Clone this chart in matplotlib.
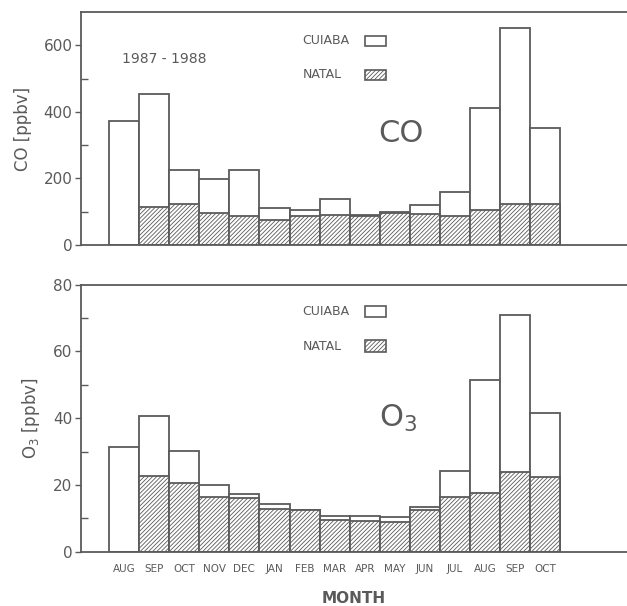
import numpy as np
import matplotlib
matplotlib.use('Agg')
import matplotlib.pyplot as plt
from matplotlib.patches import Rectangle

# monthly means 1987-1988
months = ['AUG', 'SEP', 'OCT', 'NOV', 'DEC', 'JAN', 'FEB', 'MAR', 'APR', 'MAY',
          'JUN', 'JUL', 'AUG', 'SEP', 'OCT']
co_cuiaba = [371, 453, 225, 198, 224, 110, 105, 138, 90, 98, 120, 159, 413, 651, 351]
co_natal = [np.nan, 113, 123, 96, 88, 74, 86, 91, 86, 97, 93, 86, 104, 124, 122]
o3_cuiaba = [31.5, 40.7, 30.3, 20.0, 17.2, 14.3, 12.5, 10.8, 10.6, 10.4, 13.5, 24.2, 51.3, 71.0, 41.7]
o3_natal = [np.nan, 22.6, 20.6, 16.5, 16.2, 12.9, 12.4, 9.5, 9.2, 8.8, 12.6, 16.3, 17.6, 24.0, 22.5]

ink = '#5a5a5a'
plt.rcParams['hatch.color'] = '#8c8c8c'
plt.rcParams['hatch.linewidth'] = 0.6
plt.rcParams['font.family'] = ['DejaVu Sans']

fig = plt.figure(figsize=(6.27, 6.06), dpi=100)
ax1 = fig.add_axes([0.129, 0.596, 0.871, 0.384])
ax2 = fig.add_axes([0.129, 0.0896, 0.871, 0.4406])

x = np.arange(len(months))


def draw_panel(ax, cuiaba, natal, ymax, major, minor):
    ax.bar(x, cuiaba, width=1.0, facecolor='white', edgecolor=ink, linewidth=1.3)
    ax.bar(x, natal, width=1.0, facecolor='white', edgecolor=ink, linewidth=1.3, hatch='////////')
    ax.set_xlim(-1.43, 16.71)
    ax.set_ylim(0, ymax)
    ax.set_yticks(major)
    ax.set_yticks(minor, minor=True)
    # major ticks outside, minor ticks inside, as in the original
    ax.tick_params(axis='y', which='major', direction='out', length=4, width=1, color=ink,
                   labelcolor=ink, labelsize=11, pad=2)
    ax.tick_params(axis='y', which='minor', direction='in', length=5, width=1, color=ink)
    ax.tick_params(axis='x', length=0)
    for s in ax.spines.values():
        s.set_color(ink)
        s.set_linewidth(1.3)
    ax.spines['right'].set_visible(False)


def draw_legend(ax, y1, y2):
    # legend drawn in axes coordinates, like the hand-made key in the original
    ax.text(0.406, y1, 'CUIABA', transform=ax.transAxes, color=ink, fontsize=9, va='center')
    ax.text(0.406, y2, 'NATAL', transform=ax.transAxes, color=ink, fontsize=9, va='center')
    ax.add_patch(Rectangle((0.520, y1 - 0.022), 0.038, 0.044, transform=ax.transAxes,
                           facecolor='white', edgecolor=ink, linewidth=1.2))
    ax.add_patch(Rectangle((0.520, y2 - 0.022), 0.038, 0.044, transform=ax.transAxes,
                           facecolor='white', edgecolor=ink, linewidth=1.2, hatch='////////'))


draw_panel(ax1, co_cuiaba, co_natal, 700, [0, 200, 400, 600], [100, 300, 500])
ax1.set_xticks([])
ax1.set_ylabel('CO [ppbv]', color=ink, fontsize=12, labelpad=8)
draw_legend(ax1, 0.876, 0.73)
ax1.text(0.075, 0.80, '1987 - 1988', transform=ax1.transAxes, color=ink, fontsize=10, va='center')
ax1.text(0.545, 0.48, 'CO', transform=ax1.transAxes, color=ink, fontsize=22, va='center')

draw_panel(ax2, o3_cuiaba, o3_natal, 80, [0, 20, 40, 60, 80], [10, 30, 50, 70])
ax2.set_xticks(x)
ax2.set_xticklabels(months, fontsize=7.5, color=ink)
ax2.tick_params(axis='x', pad=9)
ax2.set_xlabel('MONTH', color=ink, fontsize=11, fontweight='bold', labelpad=12)
ax2.set_ylabel('O$_3$ [ppbv]', color=ink, fontsize=12, labelpad=8)
draw_legend(ax2, 0.9, 0.77)
ax2.text(0.545, 0.50, 'O$_3$', transform=ax2.transAxes, color=ink, fontsize=22, va='center')

fig.savefig('out.png', dpi=100)
